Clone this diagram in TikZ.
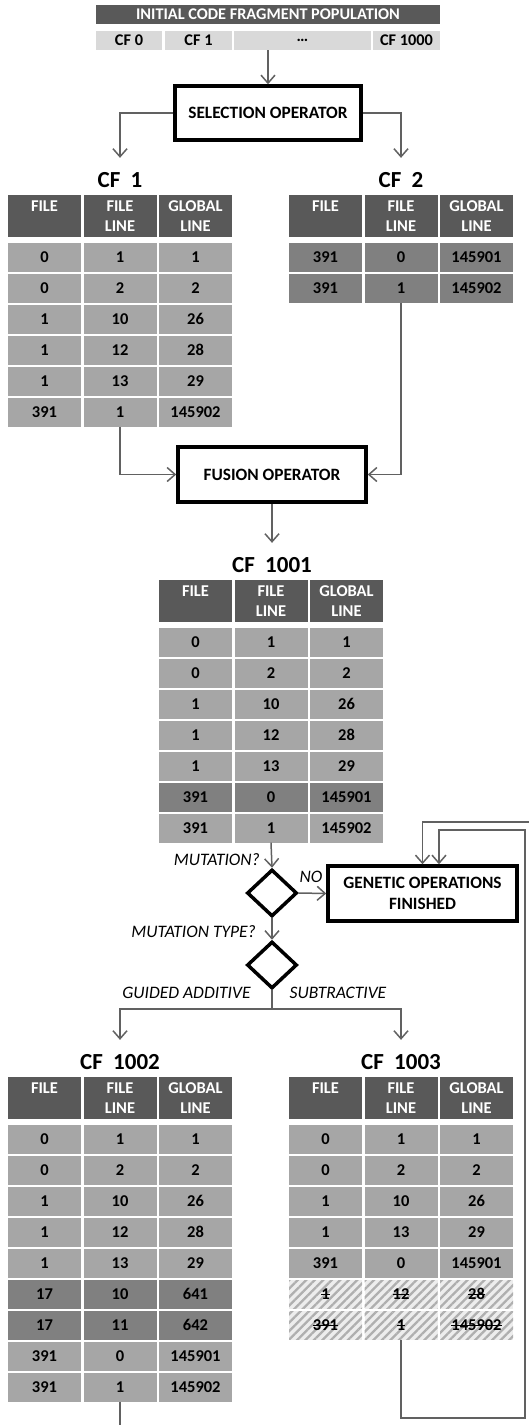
\documentclass[tikz,border=0pt]{standalone}
\usepackage{fontspec}
\setmainfont{Carlito}
\usepackage{xcolor}
\usepackage{tikz}
\usetikzlibrary{arrows.meta}
\usetikzlibrary{shapes.geometric, patterns.meta}
\definecolor{gristete}{HTML}{595959}
\definecolor{grisclair}{HTML}{A6A6A6}
\definecolor{grissombre}{HTML}{808080}
\definecolor{grispop}{HTML}{D9D9D9}
\definecolor{grisfond}{HTML}{EDEDED}
\definecolor{grishach}{HTML}{AFAFAF}
\definecolor{grisfleche}{HTML}{616161}
\newcommand{\barrer}[1]{\setbox0\hbox{#1}\rlap{\rule[0.42\ht0]{\wd0}{1pt}}\box0}

\begin{document}
\begin{tikzpicture}[x=1pt, y=-1pt,
    cellule/.style={minimum width=73pt, minimum height=28.5pt, inner sep=0pt, font=\bfseries\fontsize{16.5}{20}\selectfont},
    entete/.style={cellule, minimum height=42pt, fill=gristete, text=white, align=center, anchor=north},
    clair/.style={fill=grisclair},
    sombre/.style={fill=grissombre},
    hach/.style={preaction={fill=grisfond}, pattern={Lines[angle=45, distance=6pt, line width=2.3pt]}, pattern color=grishach},
    titre/.style={font=\bfseries\fontsize{23}{26}\selectfont},
    boite/.style={draw, line width=3.5pt, minimum width=186pt, minimum height=54pt, align=center, font=\bfseries\fontsize{17.3}{21}\selectfont},
    choix/.style={draw, diamond, line width=3.5pt, minimum width=50pt, minimum height=47pt, inner sep=0pt},
    etiq/.style={inner sep=0pt, font=\itshape\fontsize{17.5}{20}\selectfont},
    ligne/.style={draw=grisfleche, line width=1.5pt},
    fleche/.style={ligne, -{Straight Barb[length=8pt, width=14pt]}}]
        \useasboundingbox (0,0) rectangle (529,1425);

        % Population initiale
        \node[cellule, fill=gristete, text=white, minimum width=344pt, minimum height=19pt, font=\bfseries\fontsize{16.3}{18}\selectfont] (pop) at (268,14.5) {INITIAL CODE FRAGMENT POPULATION};
        \foreach \txt/\cx/\w [count=\j] in {CF 0/129/66, CF 1/198.5/67, \ldots/302.5/137, CF 1000/406.5/67}
            \node[cellule, fill=grispop, minimum width=\w pt, minimum height=19pt, font=\bfseries\fontsize{16.3}{18}\selectfont] (pop\j) at (\cx,40.5) {\txt};

        % Operateur de selection
        \node[boite] (sel) at (268,113) {SELECTION OPERATOR};
        \draw[fleche] (pop.south |- pop3.south) -- (sel.north);

        % Titres des fragments
        \node[titre] (t1) at (120,180) {CF\ \ 1};
        \node[titre] (t2) at (401,180) {CF\ \ 2};
        \node[titre] (t3) at (272,565) {CF\ \ 1001};
        \node[titre] (t4) at (120,1062) {CF\ \ 1002};
        \node[titre] (t5) at (401,1062) {CF\ \ 1003};
        \draw[fleche] (sel.west) -| ([yshift=11pt]t1.north);
        \draw[fleche] (sel.east) -| ([yshift=11pt]t2.north);

        % En-tetes des tableaux
        \foreach \nom/\L/\T in {a/8/195, b/289/195, c/159/580, d/8/1077, e/289/1077}
            \foreach \txt [count=\j] in {FILE\\\phantom{L}, FILE\\LINE, GLOBAL\\LINE}
                \node[entete] (\nom-h\j) at ({\L+36.5+75.5*(\j-1)}, \T) {\txt};

        % CF 1
        \foreach \f/\l/\g/\s [count=\i] in {0/1/1/clair, 0/2/2/clair, 1/10/26/clair, 1/12/28/clair, 1/13/29/clair, 391/1/145902/clair} {
            \node[cellule,\s] (a-\i-1) at (44.5, {257.25+31*(\i-1)}) {\f};
            \node[cellule,\s] (a-\i-2) at (120, {257.25+31*(\i-1)}) {\l};
            \node[cellule,\s] (a-\i-3) at (195.5, {257.25+31*(\i-1)}) {\g};
        }

        % CF 2
        \foreach \f/\l/\g/\s [count=\i] in {391/0/145901/sombre, 391/1/145902/sombre} {
            \node[cellule,\s] (b-\i-1) at (325.5, {257.25+31*(\i-1)}) {\f};
            \node[cellule,\s] (b-\i-2) at (401, {257.25+31*(\i-1)}) {\l};
            \node[cellule,\s] (b-\i-3) at (476.5, {257.25+31*(\i-1)}) {\g};
        }

        % Operateur de fusion
        \node[boite, minimum width=188pt, minimum height=55pt] (fus) at (272,474.5) {FUSION OPERATOR};
        \draw[fleche] (a-6-2.south) |- (fus.west);
        \draw[fleche] (b-2-2.south) |- (fus.east);
        \draw[fleche] (fus.south) -- ([yshift=11pt]t3.north);

        % CF 1001
        \foreach \f/\l/\g/\s [count=\i] in {0/1/1/clair, 0/2/2/clair, 1/10/26/clair, 1/12/28/clair, 1/13/29/clair, 391/0/145901/sombre, 391/1/145902/clair} {
            \node[cellule,\s] (c-\i-1) at (195.5, {642.25+31*(\i-1)}) {\f};
            \node[cellule,\s] (c-\i-2) at (271, {642.25+31*(\i-1)}) {\l};
            \node[cellule,\s] (c-\i-3) at (346.5, {642.25+31*(\i-1)}) {\g};
        }

        % Decisions
        \node[choix] (dec1) at (272,893) {};
        \node[choix] (dec2) at (272,965) {};
        \node[boite, minimum width=189pt, minimum height=55pt] (gen) at (422.5,893.5) {GENETIC OPERATIONS\\FINISHED};
        \node[etiq, anchor=east] (lmut) at (260,860) {MUTATION?};
        \node[etiq] (lnon) at (311,877) {NO};
        \node[etiq, anchor=east] (ltype) at (256,932) {MUTATION TYPE?};
        \node[etiq] (lguid) at (186.5,993) {GUIDED ADDITIVE};
        \node[etiq] (lsous) at (338,993) {SUBTRACTIVE};
        \draw[fleche] (c-7-2.south) -- (dec1.north);
        \draw[fleche] (dec1.east) -- (gen.west);
        \draw[fleche] (dec1.south) -- (dec2.north);
        \coordinate (split) at (272,1009);
        \draw[ligne] (dec2.south) -- (split);
        \draw[fleche] (split) -| ([yshift=11pt]t4.north);
        \draw[fleche] (split) -| ([yshift=11pt]t5.north);

        % CF 1002
        \foreach \f/\l/\g/\s [count=\i] in {0/1/1/clair, 0/2/2/clair, 1/10/26/clair, 1/12/28/clair, 1/13/29/clair, 17/10/641/sombre, 17/11/642/sombre, 391/0/145901/clair, 391/1/145902/clair} {
            \node[cellule,\s] (d-\i-1) at (44.5, {1139.25+31*(\i-1)}) {\f};
            \node[cellule,\s] (d-\i-2) at (120, {1139.25+31*(\i-1)}) {\l};
            \node[cellule,\s] (d-\i-3) at (195.5, {1139.25+31*(\i-1)}) {\g};
        }

        % CF 1003
        \foreach \f/\l/\g/\s [count=\i] in {0/1/1/clair, 0/2/2/clair, 1/10/26/clair, 1/13/29/clair, 391/0/145901/clair, \barrer{1}/\barrer{12}/\barrer{28}/hach, \barrer{391}/\barrer{1}/\barrer{145902}/hach} {
            \node[cellule,\s] (e-\i-1) at (325.5, {1139.25+31*(\i-1)}) {\f};
            \node[cellule,\s] (e-\i-2) at (401, {1139.25+31*(\i-1)}) {\l};
            \node[cellule,\s] (e-\i-3) at (476.5, {1139.25+31*(\i-1)}) {\g};
        }

        % Retours vers la fin
        \coordinate (bord) at (529,822);
        \coordinate (coin1) at (525,1418);
        \coordinate (coin2) at (525,830);
        \coordinate (bas) at (120,1425);
        \draw[fleche] (bord) -| (gen.north);
        \draw[fleche] (e-7-2.south) |- (coin1) -- (coin2) -| ([xshift=16.5pt]gen.north);
        \draw[ligne] (d-9-2.south) -- (bas);
    \end{tikzpicture}
\end{document}
